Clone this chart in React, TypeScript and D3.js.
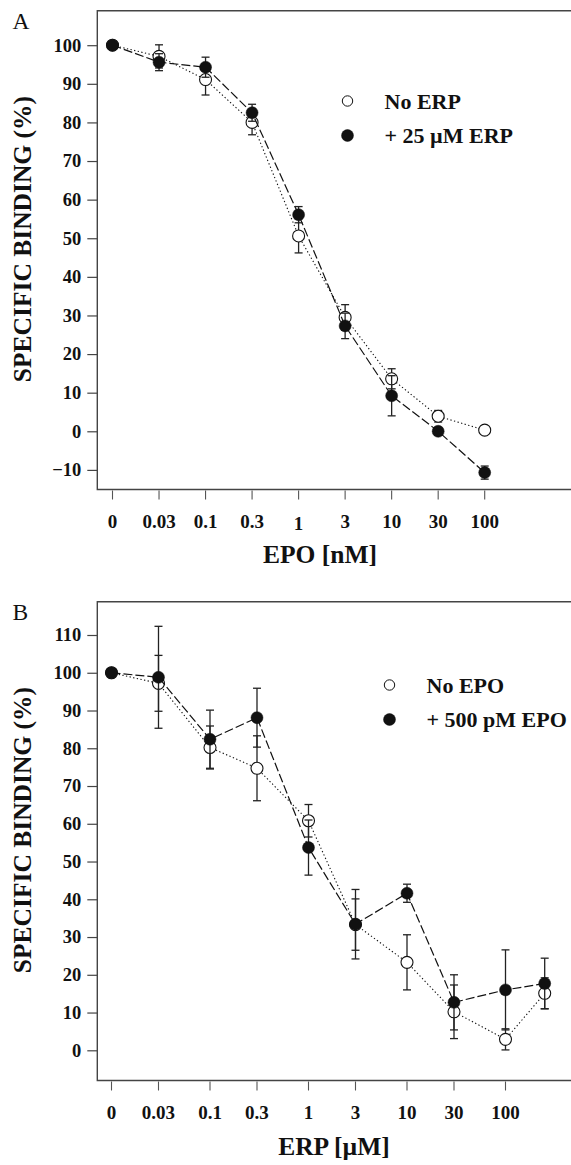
import React, { useRef, useEffect } from 'react';
import * as d3 from 'd3';

// Panel A: EPO displacement, with and without ERP
const epoLabels = ['0', '0.03', '0.1', '0.3', '1', '3', '10', '30', '100'];
const noErpMean = [100, 97.1, 91.1, 80.0, 50.6, 29.5, 13.6, 3.9, 0.3];
const noErpErr = [0, 3.0, 4.0, 3.2, 4.4, 3.3, 2.6, 1.5, 0];
const plusErpMean = [100, 95.6, 94.3, 82.5, 56.1, 27.3, 9.2, 0, -10.7];
const plusErpErr = [0, 2.2, 2.6, 2.2, 2.1, 3.3, 5.2, 1.0, 1.7];
const yTicksA = [-10, 0, 10, 20, 30, 40, 50, 60, 70, 80, 90, 100];

// Panel B: ERP displacement, with and without EPO (log axis, "0" drawn at 0.01)
const erpConc = [0, 0.03, 0.1, 0.3, 1, 3, 10, 30, 100, 250];
const erpTicks = [0, 0.03, 0.1, 0.3, 1, 3, 10, 30, 100];
const erpTickLabels = ['0', '0.03', '0.1', '0.3', '1', '3', '10', '30', '100'];
const noEpoMean = [100, 97.2, 80.2, 74.7, 60.8, 33.3, 23.3, 10.2, 2.9, 15.1];
const noEpoErr = [0, 7.4, 5.7, 8.6, 4.3, 6.8, 7.3, 7.1, 2.8, 4.1];
const plusEpoMean = [100, 98.8, 82.4, 88.1, 53.7, 33.4, 41.6, 12.7, 16.0, 17.7];
const plusEpoErr = [0, 13.5, 7.7, 7.8, 7.3, 9.2, 2.4, 7.3, 10.6, 6.7];
const yTicksB = [0, 10, 20, 30, 40, 50, 60, 70, 80, 90, 100, 110];

const FONT = '"Liberation Serif", "Times New Roman", serif';
const INK = '#111';
const FRAME = '#444';

type Series = { mean: number[]; err: number[]; filled: boolean };

type Panel = {
  letter: string;
  top: number;
  bottom: number;
  left: number;
  x: (i: number) => number;
  y: d3.ScaleLinear<number, number>;
  yTicks: number[];
  xTickPos: number[];
  xTickLabels: string[];
  xTitle: string;
  xTitleX: number;
  tickLabelY: number;
  series: Series[];
  legend: { x: number; y: number; labels: string[] };
};

const App = () => {
  const svgRef = useRef<SVGSVGElement>(null);

  useEffect(() => {
    const svg = d3.select(svgRef.current);
    svg.selectAll('*').remove();

    const xA = d3.scalePoint<string>().domain(epoLabels).range([112.5, 484.7]).padding(0);
    const yA = d3.scaleLinear().domain([-10, 100]).range([469.9, 45.2]);

    const xB = d3.scaleLog().domain([0.01, 100]).range([111.5, 505.5]);
    const posB = (c: number) => xB(c === 0 ? 0.01 : c);
    const yB = d3.scaleLinear().domain([0, 110]).range([1050.3, 635]);

    const panels: Panel[] = [
      {
        letter: 'A',
        top: 10.7,
        bottom: 489.5,
        left: 97.3,
        x: (i) => xA(epoLabels[i]) as number,
        y: yA,
        yTicks: yTicksA,
        xTickPos: epoLabels.map((l) => xA(l) as number),
        xTickLabels: epoLabels,
        xTitle: 'EPO [nM]',
        xTitleX: 320,
        tickLabelY: 527.5,
        series: [
          { mean: noErpMean, err: noErpErr, filled: false },
          { mean: plusErpMean, err: plusErpErr, filled: true },
        ],
        legend: { x: 347.5, y: 101, labels: ['No ERP', '+ 25 \u00b5M ERP'] },
      },
      {
        letter: 'B',
        top: 601.7,
        bottom: 1080.5,
        left: 97.3,
        x: (i) => posB(erpConc[i]),
        y: yB,
        yTicks: yTicksB,
        xTickPos: erpTicks.map(posB),
        xTickLabels: erpTickLabels,
        xTitle: 'ERP [\u00b5M]',
        xTitleX: 334,
        tickLabelY: 1119,
        series: [
          { mean: noEpoMean, err: noEpoErr, filled: false },
          { mean: plusEpoMean, err: plusEpoErr, filled: true },
        ],
        legend: { x: 389.5, y: 685, labels: ['No EPO', '+ 500 pM EPO'] },
      },
    ];

    panels.forEach((p) => {
      const g = svg.append('g');

      // frame: top, left and bottom lines (open on the right)
      g.append('path')
        .attr('d', `M571,${p.top}H${p.left}V${p.bottom}H571`)
        .attr('fill', 'none')
        .attr('stroke', FRAME)
        .attr('stroke-width', 1.4);

      // y axis
      const yAxis = d3.axisLeft(p.y).tickValues(p.yTicks).tickSize(10).tickPadding(6);
      const ya = g.append('g').attr('transform', `translate(${p.left},0)`).call(yAxis);
      ya.select('.domain').remove();
      ya.selectAll('line').attr('stroke', FRAME).attr('stroke-width', 1.2);
      ya.selectAll('text')
        .attr('fill', INK)
        .style('font-family', FONT)
        .style('font-weight', 'bold')
        .style('font-size', '18.5px');

      // x ticks
      g.selectAll('.xt')
        .data(p.xTickPos)
        .enter()
        .append('line')
        .attr('x1', (d) => d)
        .attr('x2', (d) => d)
        .attr('y1', p.bottom + 1)
        .attr('y2', p.bottom + 10)
        .attr('stroke', '#555')
        .attr('stroke-width', 1.1);

      g.selectAll('.xl')
        .data(p.xTickLabels)
        .enter()
        .append('text')
        .attr('x', (_d, i) => p.xTickPos[i])
        .attr('y', (d) => p.tickLabelY + (d === '1' && p.letter === 'A' ? 2 : 0))
        .attr('text-anchor', 'middle')
        .attr('fill', INK)
        .style('font-family', FONT)
        .style('font-weight', 'bold')
        .style('font-size', '19px')
        .text((d) => d);

      g.append('text')
        .attr('x', p.xTitleX)
        .attr('y', p.tickLabelY + 35.5)
        .attr('text-anchor', 'middle')
        .attr('fill', INK)
        .style('font-family', FONT)
        .style('font-weight', 'bold')
        .style('font-size', '25.5px')
        .text(p.xTitle);

      // y title
      const yMid = (p.top + p.bottom) / 2 - 11;
      g.append('text')
        .attr('transform', `translate(31,${yMid}) rotate(-90)`)
        .attr('text-anchor', 'middle')
        .attr('fill', INK)
        .style('font-family', FONT)
        .style('font-weight', 'bold')
        .style('font-size', '25.5px')
        .text('SPECIFIC BINDING (%)');

      // panel letter
      g.append('text')
        .attr('x', 12.5)
        .attr('y', p.top + 17.8)
        .attr('fill', INK)
        .style('font-family', FONT)
        .style('font-size', '23.5px')
        .text(p.letter);

      // series
      p.series.forEach((s) => {
        const pts = s.mean.map((m, i) => ({ x: p.x(i), m, e: s.err[i] }));
        const line = d3
          .line<{ x: number; m: number }>()
          .x((d) => d.x)
          .y((d) => p.y(d.m));

        g.append('path')
          .datum(pts)
          .attr('fill', 'none')
          .attr('stroke', INK)
          .attr('stroke-width', s.filled ? 1.2 : 1.1)
          .attr('stroke-dasharray', s.filled ? '9,3' : '1.3,2.4')
          .attr('d', line);

        const eb = g
          .selectAll(null)
          .data(pts.filter((d) => d.e > 0))
          .enter()
          .append('g')
          .attr('stroke', '#222')
          .attr('stroke-width', 1.3);
        eb.append('line')
          .attr('x1', (d) => d.x)
          .attr('x2', (d) => d.x)
          .attr('y1', (d) => p.y(d.m - d.e))
          .attr('y2', (d) => p.y(d.m + d.e));
        eb.append('line')
          .attr('x1', (d) => d.x - 4)
          .attr('x2', (d) => d.x + 4)
          .attr('y1', (d) => p.y(d.m + d.e))
          .attr('y2', (d) => p.y(d.m + d.e));
        eb.append('line')
          .attr('x1', (d) => d.x - 4)
          .attr('x2', (d) => d.x + 4)
          .attr('y1', (d) => p.y(d.m - d.e))
          .attr('y2', (d) => p.y(d.m - d.e));

        g.selectAll(null)
          .data(pts)
          .enter()
          .append('circle')
          .attr('cx', (d) => d.x)
          .attr('cy', (d) => p.y(d.m))
          .attr('r', 6)
          .attr('fill', s.filled ? INK : '#fff')
          .attr('stroke', INK)
          .attr('stroke-width', s.filled ? 0.5 : 1.1);
      });

      // legend
      p.legend.labels.forEach((label, i) => {
        const ly = p.legend.y + i * 34.5;
        g.append('circle')
          .attr('cx', p.legend.x)
          .attr('cy', ly)
          .attr('r', i === 0 ? 5.2 : 6)
          .attr('fill', i === 0 ? '#fff' : INK)
          .attr('stroke', INK)
          .attr('stroke-width', i === 0 ? 1 : 0.5);
        g.append('text')
          .attr('x', p.legend.x + 37)
          .attr('y', ly + 7.5)
          .attr('fill', INK)
          .style('font-family', FONT)
          .style('font-weight', 'bold')
          .style('font-size', '22px')
          .text(label);
      });
    });
  }, []);

  return (
    <svg
      ref={svgRef}
      width={571}
      height={1165}
      style={{ position: 'absolute', left: 0, top: 0, background: '#fff' }}
    ></svg>
  );
};

export default App;
